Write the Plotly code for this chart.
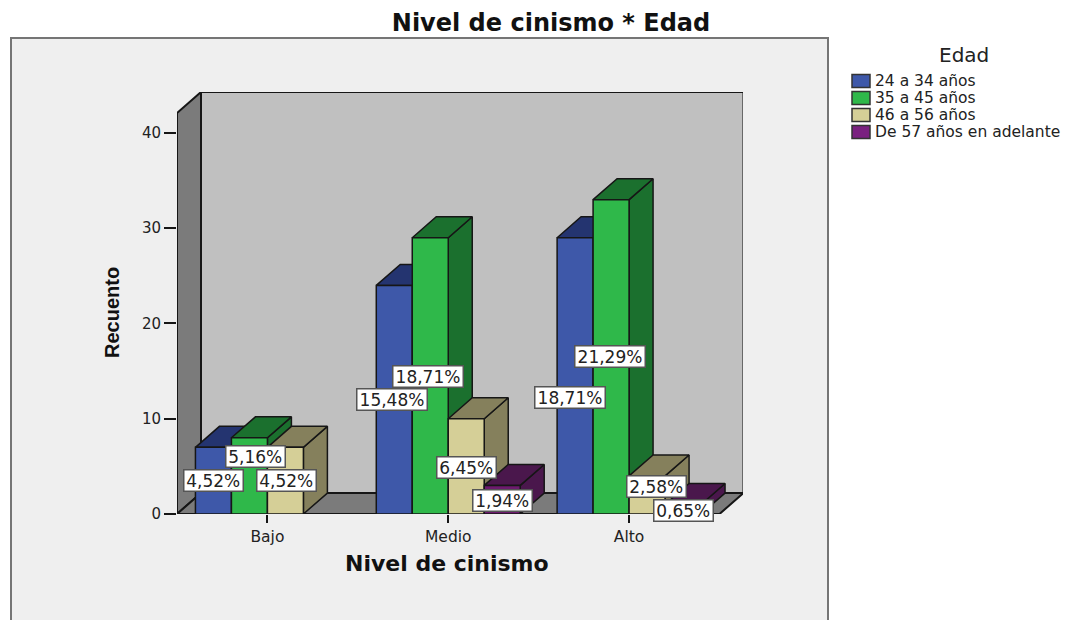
import plotly.graph_objects as go

categories = ["Bajo", "Medio", "Alto"]
series_names = ["24 a 34 años", "35 a 45 años", "46 a 56 años", "De 57 años en adelante"]
counts_24_34 = [7, 24, 29]
counts_35_45 = [8, 29, 33]
counts_46_56 = [7, 10, 4]
counts_57_up = [0, 3, 1]
pct_24_34 = ["4,52%", "15,48%", "18,71%"]
pct_35_45 = ["5,16%", "18,71%", "21,29%"]
pct_46_56 = ["4,52%", "6,45%", "2,58%"]
pct_57_up = ["", "1,94%", "0,65%"]
y_ticks = [0, 10, 20, 30, 40]

counts = [counts_24_34, counts_35_45, counts_46_56, counts_57_up]
pcts = [pct_24_34, pct_35_45, pct_46_56, pct_57_up]

FRONT = ["#3e58a9", "#2fb84a", "#d5cf97", "#6d1a6e"]
DARK = ["#243470", "#1b702e", "#85805c", "#4a174c"]
SWATCH = ["#3e58a9", "#2fb84a", "#d5cf97", "#7a2080"]
EDGE = "#161616"

W, H = 1077, 620
L, R, T, B = 177, 743, 92, 514
XR = [-0.5, 2.63]
YR = [0, 44.3]
BW = 0.199
DX = 0.1327
DY = 2.2
FONT = "DejaVu Sans"

# label nudges in pixels (dx, dy-up), by series then category
nudge = [
    [(0, 0), (-2, 0), (-5, -22)],
    [(6, 19), (-2, -1), (-1, 0)],
    [(1, 0), (0, -1), (9, 8)],
    [(0, 0), (0, -1), (0, -1)],
]


def px(x):
    return (x - L) / (R - L)


def py(y):
    return (B - y) / (B - T)


fig = go.Figure()


def poly(xs, ys, fill, name):
    fig.add_trace(go.Scatter(
        x=xs + xs[:1], y=ys + ys[:1], mode="lines", fill="toself", fillcolor=fill,
        line=dict(color=EDGE, width=1.5), hoverinfo="skip", showlegend=False, name=name,
    ))


annots = []
for c, cat in enumerate(categories):
    for s, name in enumerate(series_names):
        v = counts[s][c]
        if v == 0:
            continue
        x0 = c + (s - 2) * BW
        x1 = x0 + BW
        poly([x1, x1 + DX, x1 + DX, x1], [0, DY, v + DY, v], DARK[s], name)
        poly([x0, x0 + DX, x1 + DX, x1], [v, v + DY, v + DY, v], DARK[s], name)
        poly([x0, x1, x1, x0], [0, 0, v, v], FRONT[s], name)
        nx, ny = nudge[s][c]
        annots.append(dict(
            x=(x0 + x1) / 2, y=v / 2, xref="x", yref="y", text=pcts[s][c], showarrow=False,
            xshift=nx, yshift=ny, font=dict(family=FONT, size=17, color="#222222"),
            width=11.5 * len(pcts[s][c]), height=20, align="center", valign="middle",
            bgcolor="white", bordercolor="#555555", borderwidth=1.5, borderpad=0,
        ))

# axis titles, legend texts
def page_text(x, y, text, size, family=FONT, color="#222222", xanchor="center", angle=0):
    annots.append(dict(x=px(x), y=py(y), xref="paper", yref="paper", text=text, xanchor=xanchor, yanchor="middle",
                       textangle=angle, showarrow=False, borderpad=0,
                       font=dict(family=family, size=size, color=color)))


page_text(447, 563, "<b>Nivel de cinismo</b>", 22, color="#111111")
page_text(112, 313, "<b>Recuento</b>", 20, family="Liberation Sans", color="#111111", angle=-90)
page_text(964, 55, "Edad", 20)
for i, name in enumerate(series_names):
    page_text(874, 81 + 17 * i, name, 15.5, xanchor="left")

shapes = [
    # outer panel
    dict(type="rect", xref="paper", yref="paper", x0=px(11), x1=px(828), y0=py(38), y1=py(640),
         fillcolor="#efefef", line=dict(color="#757575", width=2), layer="below"),
    # back wall
    dict(type="rect", xref="x", yref="y", x0=XR[0] + DX, x1=2.5 + DX, y0=DY, y1=YR[1],
         fillcolor="#c0c0c0", line=dict(color=EDGE, width=2), layer="below"),
    # left wall
    dict(type="path", xref="x", yref="y",
         path=f"M {XR[0]} 0 L {XR[0] + DX} {DY} L {XR[0] + DX} {YR[1]} L {XR[0]} {YR[1] - DY} Z",
         fillcolor="#7b7b7b", line=dict(color=EDGE, width=2), layer="below"),
    # floor
    dict(type="path", xref="x", yref="y",
         path=f"M {XR[0]} 0 L 2.5 0 L {2.5 + DX} {DY} L {XR[0] + DX} {DY} Z",
         fillcolor="#7b7b7b", line=dict(color=EDGE, width=2), layer="below"),
]
for i in range(4):
    cy = 81 + 17 * i
    shapes.append(dict(type="rect", xref="paper", yref="paper", x0=px(852), x1=px(870),
                       y0=py(cy - 6.5), y1=py(cy + 6.5), fillcolor=SWATCH[i],
                       line=dict(color="#333333", width=1.5)))

fig.update_layout(
    width=W, height=H, autosize=False,
    margin=dict(l=L, r=W - R, t=T, b=H - B),
    paper_bgcolor="white", plot_bgcolor="rgba(0,0,0,0)", showlegend=False,
    title=dict(text="<b>Nivel de cinismo * Edad</b>", xref="container", yref="container", x=551 / W, xanchor="center",
               y=1 - 23 / H, yanchor="middle", font=dict(family=FONT, size=24, color="#111111")),
    xaxis=dict(range=XR, tickvals=[0, 1, 2], ticktext=categories, ticks="outside", ticklen=8, tickwidth=1.5,
               tickcolor=EDGE, showgrid=False, zeroline=False, showline=False,
               tickfont=dict(family=FONT, size=15.5, color="#222222")),
    yaxis=dict(range=YR, tickvals=y_ticks, ticks="outside", ticklen=12, tickwidth=1.5, tickcolor=EDGE,
               showgrid=False, zeroline=False, showline=False,
               tickfont=dict(family=FONT, size=15, color="#222222")),
    annotations=annots, shapes=shapes,
)

fig.write_html("out.html", config={"displayModeBar": False},
               post_script="document.body.style.margin='0';document.documentElement.style.overflow='hidden';")
